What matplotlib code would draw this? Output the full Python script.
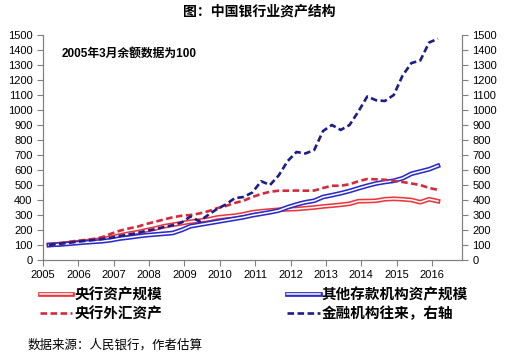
import numpy as np
import matplotlib
matplotlib.use("Agg")
import matplotlib.pyplot as plt
import matplotlib.patheffects as pe

plt.rcParams['font.family'] = ['Liberation Sans', 'Noto Sans CJK SC']

# quarterly points, March 2005 = 100
years = np.arange(2005.17, 2016.2, 0.25)

pboc_assets = [100, 105, 110, 117, 122, 130, 137, 150, 163, 175, 185, 198,
               210, 225, 235, 245, 255, 262, 270, 283, 290, 295, 305, 318,
               325, 330, 335, 338, 340, 345, 350, 357, 362, 368, 375, 392,
               393, 395, 405, 408, 405, 400, 385, 405, 392]
pboc_fx = [100, 110, 118, 127, 133, 140, 152, 175, 195, 210, 222, 240,
           255, 270, 285, 295, 300, 310, 325, 345, 360, 380, 395, 420,
           440, 455, 462, 462, 463, 462, 463, 480, 495, 495, 505, 525,
           540, 538, 535, 527, 520, 510, 500, 480, 468]
odc_assets = [100, 103, 107, 112, 117, 121, 125, 132, 143, 150, 158, 165,
              170, 175, 180, 200, 225, 235, 245, 255, 265, 275, 285, 298,
              308, 318, 330, 352, 370, 385, 395, 420, 432, 445, 460, 478,
              495, 510, 520, 528, 545, 575, 590, 605, 628]
interbank = [100, 107, 113, 120, 127, 133, 140, 148, 160, 170, 180, 195,
             205, 220, 232, 250, 290, 258, 300, 340, 370, 412, 420, 450,
             525, 500, 565, 660, 720, 710, 733, 860, 900, 867, 900, 990,
             1090, 1065, 1060, 1100, 1230, 1313, 1330, 1450, 1475]

year_ticks = list(range(2005, 2017))
y_ticks = list(range(0, 1501, 100))

red = '#E8383D'
blue = '#2B2BC8'
red_dash = '#D42A3A'
navy = '#1C1C8A'

fig = plt.figure(figsize=(5.19, 3.57), dpi=100)
ax = fig.add_axes([43 / 519, 97 / 357, 419 / 519, 225 / 357])
ax2 = ax.twinx()


def double_line(color):
    return [pe.Stroke(linewidth=3.4, foreground=color), pe.Normal()]


ax.plot(years, pboc_assets, color='white', lw=1.1,
        path_effects=double_line(red), label='央行资产规模', zorder=3)
ax.plot(years, pboc_fx, color=red_dash, lw=1.9, dashes=(2.5, 1.3),
        label='央行外汇资产', zorder=4)
ax.plot(years, odc_assets, color='white', lw=1.1,
        path_effects=double_line(blue), label='其他存款机构资产规模', zorder=3)
ax2.plot(years, interbank, color=navy, lw=1.9, dashes=(2.5, 1.3),
         label='金融机构往来，右轴')

for a in (ax, ax2):
    a.set_ylim(0, 1500)
    a.set_yticks(y_ticks)
    a.set_xlim(2005, 2016.85)
    a.tick_params(labelsize=8, length=4, color='#808080', direction='out')
    a.spines['top'].set_visible(False)
    for side in ('left', 'right', 'bottom'):
        a.spines[side].set_color('#808080')
ax.set_xticks(year_ticks)
ax.set_xticklabels([str(y) for y in year_ticks])

fig.text(0.5, 1 - 12 / 357, '图：中国银行业资产结构', ha='center', va='center',
         fontsize=10, fontweight='bold')
ax.text(62 / 519, 1 - 54 / 357, '2005年3月余额数据为100', transform=fig.transFigure,
        ha='left', va='center', fontsize=8.5, fontweight='bold')

h1, l1 = ax.get_legend_handles_labels()
h2, l2 = ax2.get_legend_handles_labels()
fig.legend(h1 + h2, l1 + l2, ncol=2, frameon=False,
           loc='upper left', bbox_to_anchor=(40 / 519, 1 - 288 / 357),
           prop={'size': 10.5, 'weight': 'bold'},
           handlelength=2.2, handletextpad=0.15, columnspacing=8.6,
           labelspacing=0.3, borderaxespad=0, borderpad=0)

fig.text(28 / 519, 1 - 345 / 357, '数据来源：人民银行，作者估算', ha='left',
         va='center', fontsize=9)

fig.savefig('out.png', dpi=100)
